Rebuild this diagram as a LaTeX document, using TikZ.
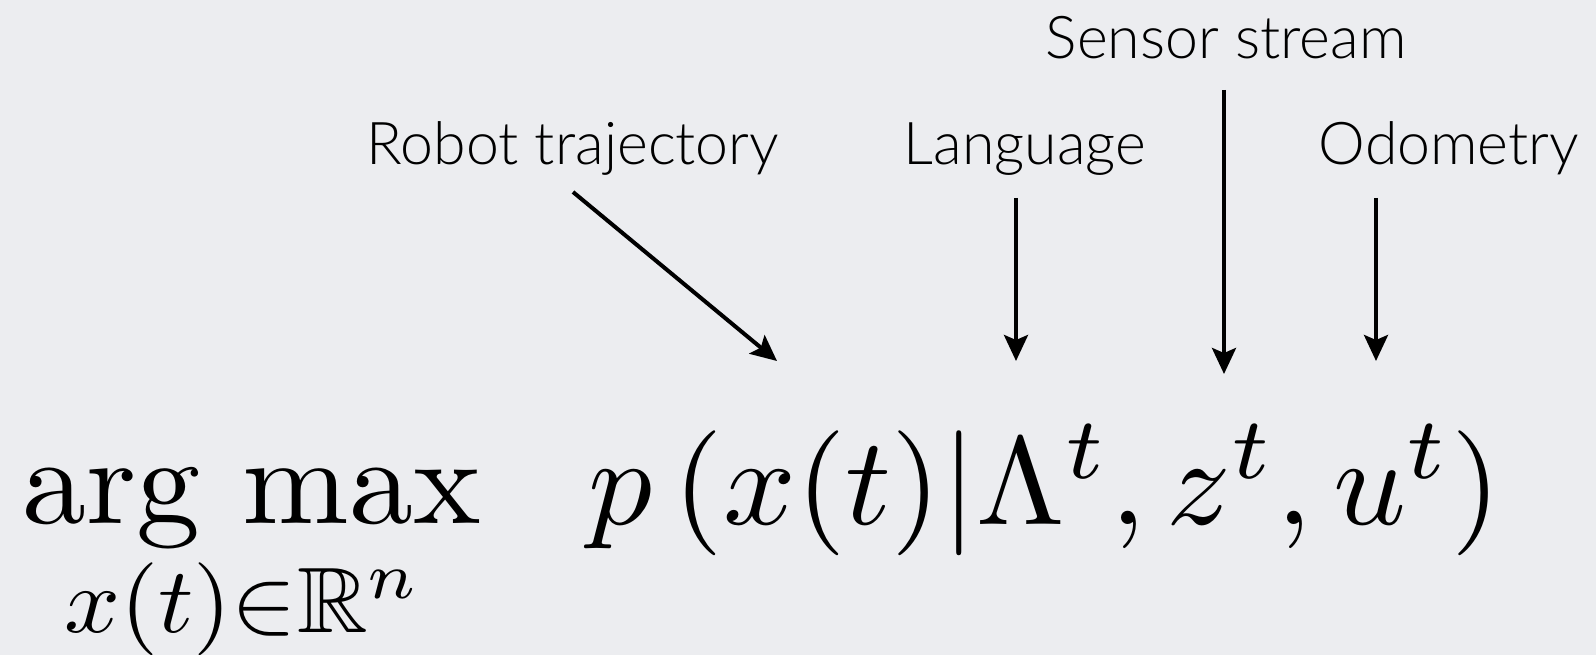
\documentclass[tikz,border=0pt]{standalone}
\usepackage{amsmath,amssymb,graphicx}
\usepackage{fontspec}
\newfontfamily\lblfont{Lato Light}
\usetikzlibrary{arrows.meta}
\definecolor{bgcol}{RGB}{236,237,240}
\begin{document}
\begin{tikzpicture}[x=1pt,y=-1pt,
  lbl/.style={font=\lblfont\fontsize{59}{66}\selectfont, inner sep=0pt, anchor=base},
  mth/.style={inner sep=0pt, anchor=base west, font=\fontsize{10}{12}\selectfont},
  arr/.style={line width=4pt, -{Stealth[length=26pt,width=24pt,inset=5pt]}}]
\fill[bgcol] (0,0) rectangle (1596,655);
\useasboundingbox (0,0) rectangle (1596,655);
% labels
\node[lbl] (sens) at (1226,59) {Sensor stream};
\node[lbl] (robot) at (573,165) {Robot trajectory};
\node[lbl] (lang) at (1025,165) {Language};
\node[lbl] (odo) at (1449,165) {Odometry};
% math
\node[mth] (argmax) at (22,523) {\scalebox{12.8}[12.4]{$\mathrm{arg\ max}$}};
\node[mth] (sub) at (64,632) {\scalebox{9.8}[9.3]{$x(t){\in}\mathbb{R}^n$}};
\node[mth] (prob) at (588,524) {\scalebox{12.75}[12.5]{$p\left(x(t)\middle|\Lambda^t,z^t,u^t\right)$}};
% arrow coordinates
\coordinate (rs) at (573,192); \coordinate (re) at (777,361);
\coordinate (ls) at (1016,198); \coordinate (le) at (1016,361);
\coordinate (ss) at (1224,90); \coordinate (se) at (1224,374);
\coordinate (os) at (1376,198); \coordinate (oe) at (1376,361);
\draw[arr] (rs) -- (re);
\draw[arr] (ls) -- (le);
\draw[arr] (ss) -- (se);
\draw[arr] (os) -- (oe);
\end{tikzpicture}
\end{document}
